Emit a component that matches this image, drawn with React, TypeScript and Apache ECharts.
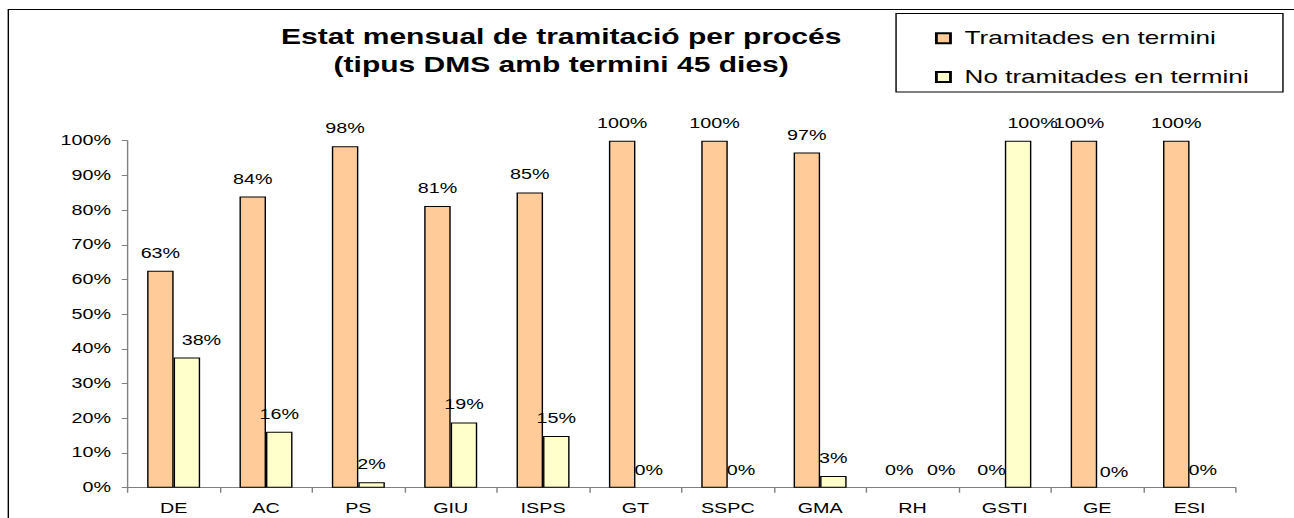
import React, { useEffect, useRef } from "react";
import * as echarts from "echarts";

// ---- data ----
const categories = ["DE", "AC", "PS", "GIU", "ISPS", "GT", "SSPC", "GMA", "RH", "GSTI", "GE", "ESI"];
const onTime = [62.5, 83.9, 98.4, 81.2, 85.1, 100, 100, 96.6, 0, 0, 100, 100];
const notOnTime = [37.5, 16.1, 1.6, 18.8, 14.9, 0, 0, 3.4, 0, 100, 0, 0];
const seriesNames = ["Tramitades en termini", "No tramitades en termini"];
const titleLines = ["Estat mensual de tramitació per procés", "(tipus DMS amb termini 45 dies)"];
const yMin = 0;
const yMax = 100;
const yStep = 10;

// manual label nudges (as in the original chart)
const onTimeLabelShift: Record<number, number[]> = { 10: [-3.5, 0] };
const notOnTimeLabelShift: Record<number, number[]> = { 0: [10.3, 0], 8: [11, 0], 9: [10.3, 0], 10: [2.5, 2] };

// the original picture is stretched horizontally
const S = 1.41;
const W = 1294 / S;
const H = 518;
const FONT = '"Liberation Sans", Arial, Helvetica, sans-serif';

function buildData(values: number[], shifts: Record<number, number[]>) {
  return values.map((v, i) => {
    const item: any = { value: v };
    if (shifts[i]) item.label = { offset: shifts[i] };
    if (v === 0) item.itemStyle = { borderWidth: 0 };
    return item;
  });
}

export default function App() {
  const ref = useRef<HTMLDivElement>(null);
  useEffect(() => {
    if (!ref.current) return;
    const chart = echarts.init(ref.current, undefined, { renderer: "svg" });
    const labelCfg = {
      show: true,
      position: "top",
      distance: 10.5,
      fontFamily: FONT,
      fontSize: 14,
      lineHeight: 14,
      color: "#000",
      formatter: (p: any) => Math.round(p.value) + "%",
    };
    chart.setOption({
      animation: false,
      backgroundColor: "#fff",
      title: {
        text: titleLines.join("\n"),
        left: 398,
        top: 23,
        padding: 0,
        textAlign: "center",
        textStyle: {
          fontFamily: FONT,
          fontSize: 21.3,
          fontWeight: "bold",
          lineHeight: 28,
          color: "#000",
        },
      },
      legend: {
        orient: "vertical",
        left: 663.1,
        top: 28.3,
        padding: 0,
        itemWidth: 10,
        itemHeight: 10,
        itemGap: 18.7,
        icon: "rect",
        textStyle: {
          fontFamily: FONT,
          fontSize: 18.5,
          lineHeight: 20,
          color: "#000",
          padding: [0, 0, 0, 5],
        },
        data: seriesNames,
      },
      graphic: [
        {
          type: "rect",
          z: -10,
          silent: true,
          shape: { x: 5.9, y: 9.5, width: 3000, height: 3000 },
          style: { fill: "none", stroke: "#000", lineWidth: 1 },
        },
        {
          type: "rect",
          z: -5,
          silent: true,
          shape: { x: 635.5, y: 13.5, width: 274.4, height: 78.5 },
          style: { fill: "#fff", stroke: "#000", lineWidth: 1 },
        },
      ],
      grid: { left: 90.4, top: 140.7, width: 786, height: 347, containLabel: false },
      xAxis: {
        type: "category",
        data: categories,
        boundaryGap: true,
        axisLine: { show: true, lineStyle: { color: "#808080", width: 1 } },
        axisTick: { show: true, length: 5, interval: 0, lineStyle: { color: "#808080" } },
        axisLabel: {
          interval: 0,
          margin: 14,
          fontFamily: FONT,
          fontSize: 14,
          lineHeight: 14,
          color: "#000",
        },
        splitLine: { show: false },
      },
      yAxis: {
        type: "value",
        min: yMin,
        max: yMax,
        interval: yStep,
        axisLine: { show: true, lineStyle: { color: "#808080", width: 1 } },
        axisTick: { show: true, length: 4, lineStyle: { color: "#808080" } },
        axisLabel: {
          margin: 11.7,
          fontFamily: FONT,
          fontSize: 14,
          color: "#000",
          formatter: "{value}%",
        },
        splitLine: { show: false },
      },
      series: [
        {
          name: seriesNames[0],
          type: "bar",
          data: buildData(onTime, onTimeLabelShift),
          barWidth: 18.8,
          barGap: "0%",
          itemStyle: { color: "#FFCC99", borderColor: "#000", borderWidth: 1 },
          label: labelCfg,
        },
        {
          name: seriesNames[1],
          type: "bar",
          data: buildData(notOnTime, notOnTimeLabelShift),
          barWidth: 18.8,
          barGap: "0%",
          itemStyle: { color: "#FFFFCC", borderColor: "#000", borderWidth: 1 },
          label: labelCfg,
        },
      ],
    });
    return () => chart.dispose();
  }, []);
  return (
    <div
      ref={ref}
      style={{
        position: "fixed",
        left: 0,
        top: 0,
        width: W,
        height: H,
        overflow: "hidden",
        transform: `scaleX(${S})`,
        transformOrigin: "0 0",
        background: "#fff",
      }}
    />
  );
}
